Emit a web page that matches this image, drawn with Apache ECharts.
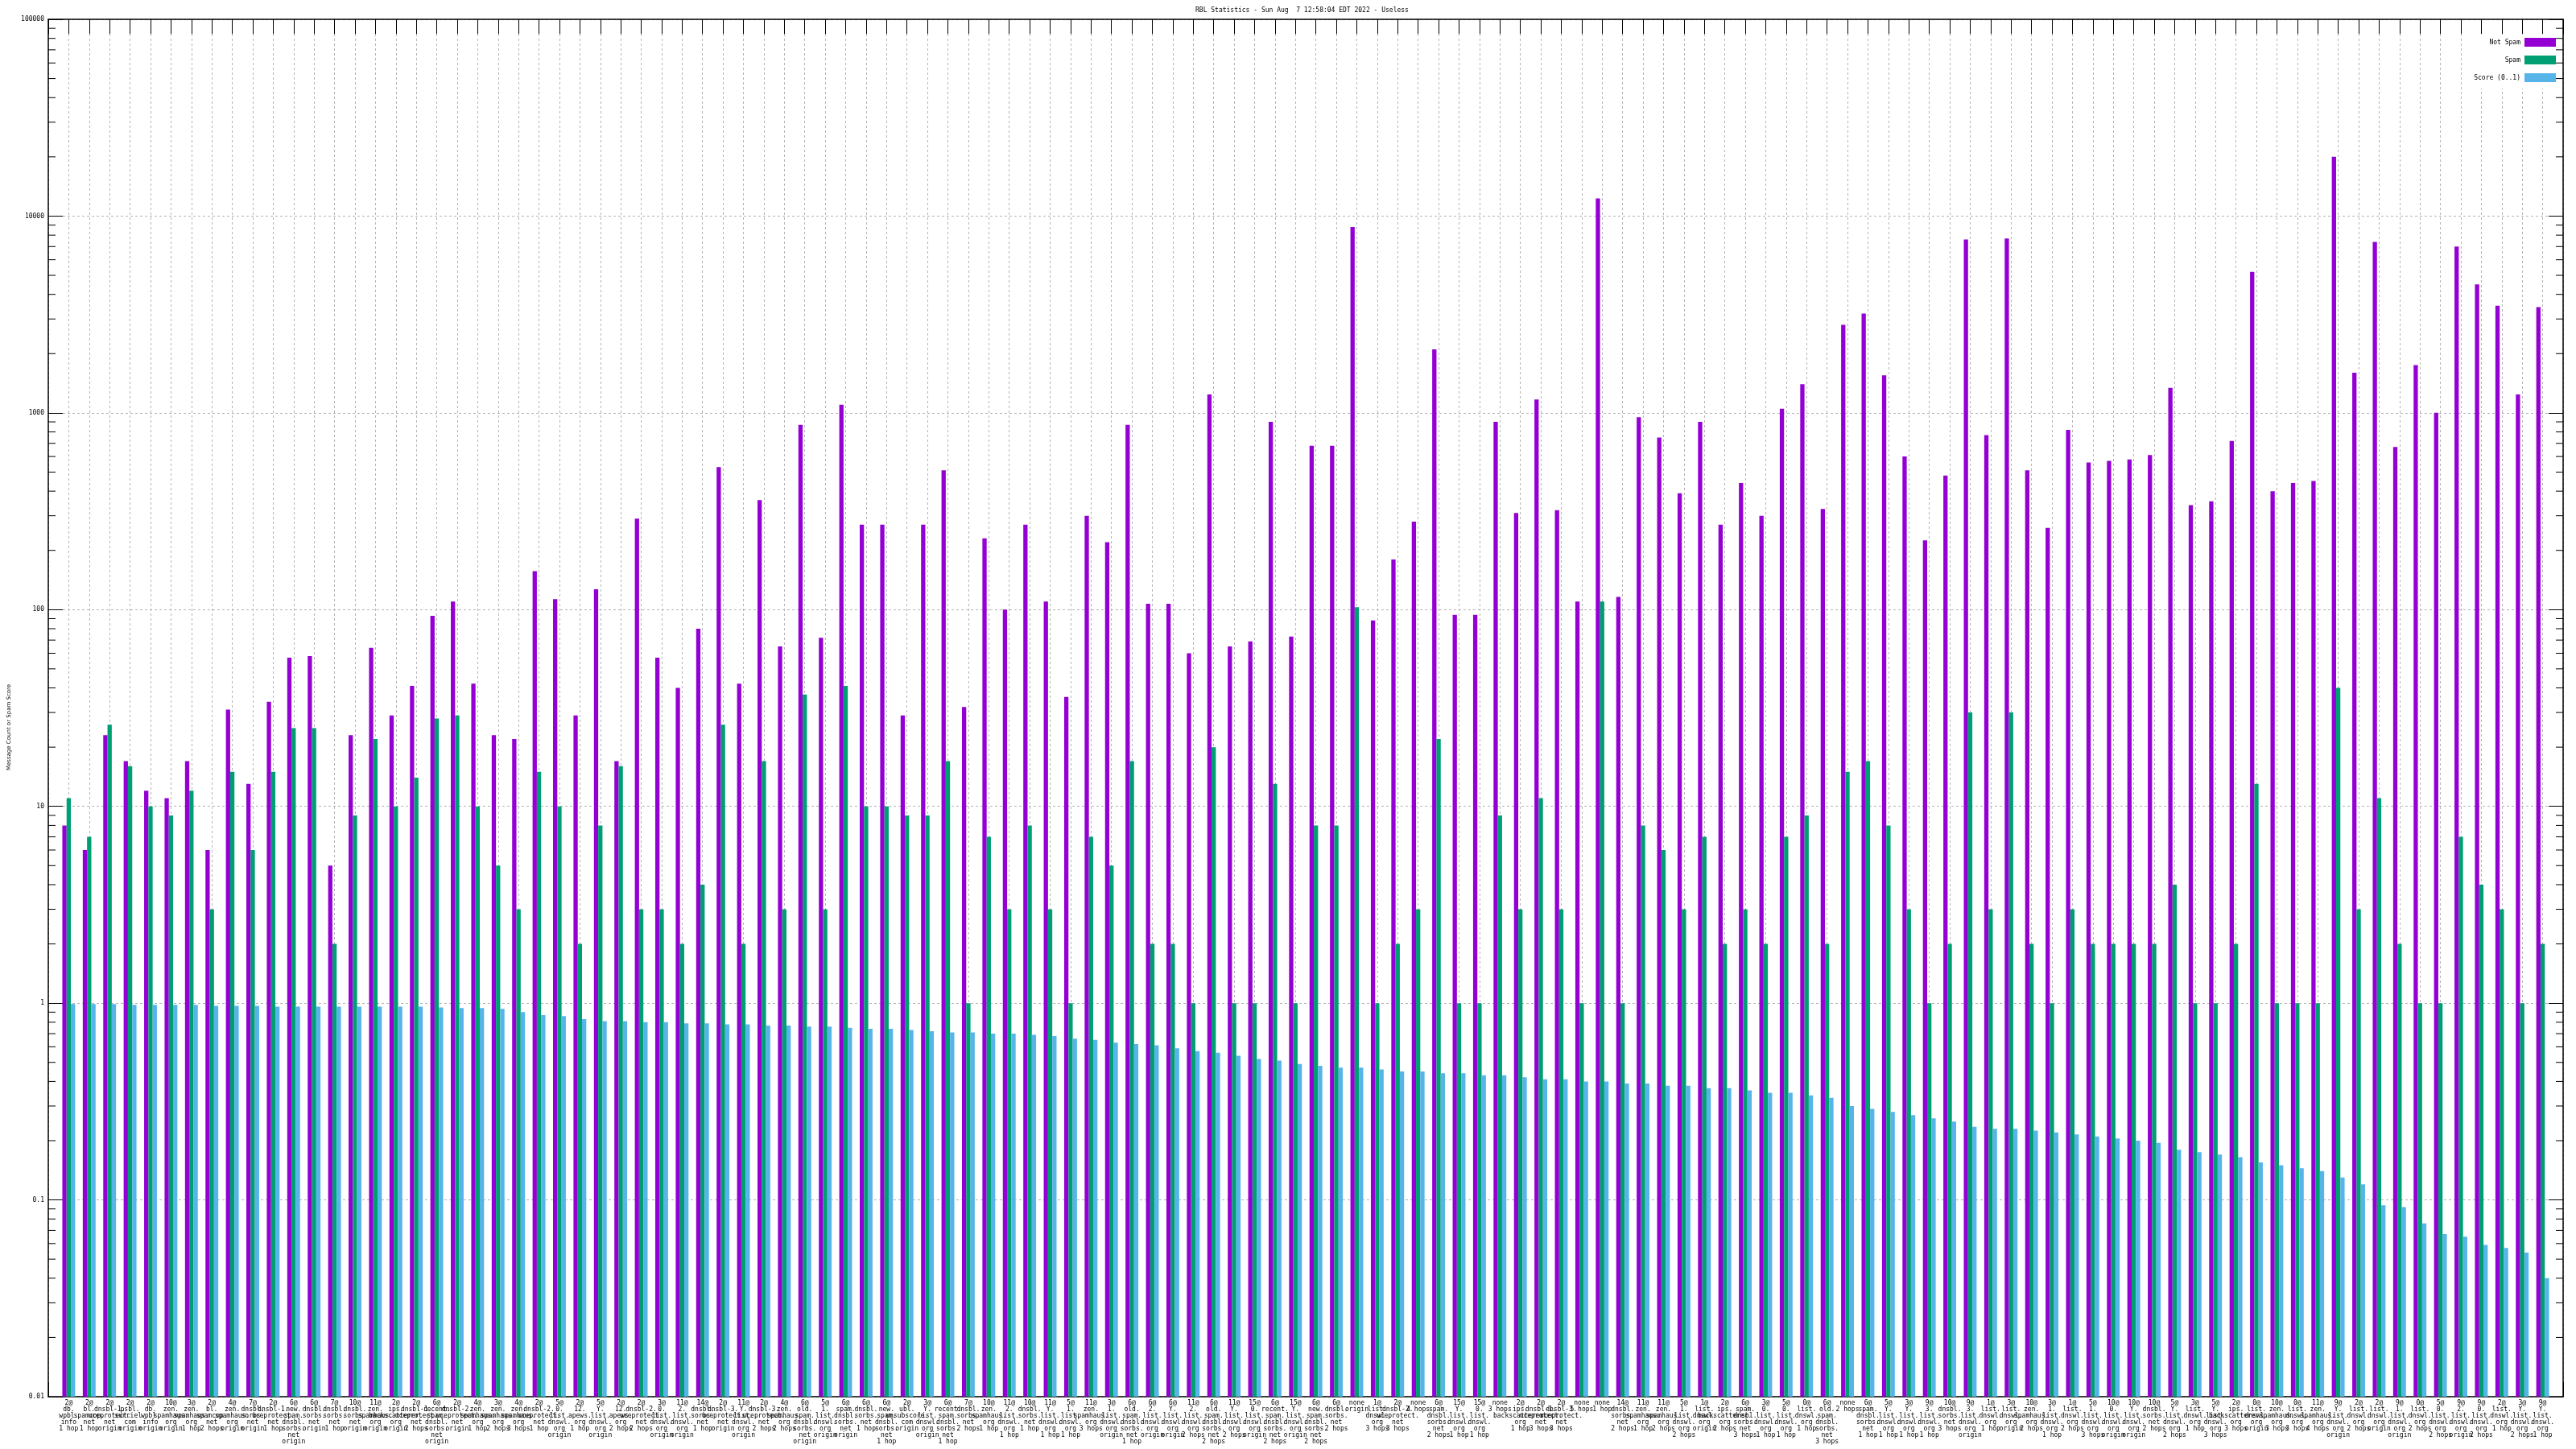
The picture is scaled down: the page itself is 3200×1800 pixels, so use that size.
<!DOCTYPE html>
<html><head><meta charset="utf-8">
<script src="https://cdn.jsdelivr.net/npm/echarts@6/dist/echarts.min.js"></script>
<style>html,body{margin:0;padding:0;background:#fff}#c{width:3200px;height:1800px}</style>
</head><body><div id="c"></div>
<script>
const titleText = 'RBL Statistics - Sun Aug  7 12:58:04 EDT 2022 - Useless';
const seriesNames = ['Not Spam', 'Spam', 'Score (0..1)'];
const seriesColors = ['#9400D3', '#009E73', '#56B4E9'];
const yTickLabels = ['0.01', '0.1', '1', '10', '100', '1000', '10000', '100000'];

const categories = [
'2@\ndb.\nwpbl.\ninfo\n1 hop','2@\nbl.\nspamcop.\nnet\n1 hop','2@\ndnsbl-1.\nuceprotect.\nnet\norigin','2@\npsbl.\nsurriel.\ncom\norigin','2@\ndb.\nwpbl.\ninfo\norigin',
'10@\nzen.\nspamhaus.\norg\norigin','3@\nzen.\nspamhaus.\norg\n1 hop','2@\nbl.\nspamcop.\nnet\n2 hops','4@\nzen.\nspamhaus.\norg\norigin','7@\ndnsbl.\nsorbs.\nnet\norigin',
'2@\ndnsbl-1.\nuceprotect.\nnet\n1 hop','6@\nnew.\nspam.\ndnsbl.\nsorbs.\nnet\norigin','6@\ndnsbl.\nsorbs.\nnet\norigin','7@\ndnsbl.\nsorbs.\nnet\n1 hop','10@\ndnsbl.\nsorbs.\nnet\norigin',
'11@\nzen.\nspamhaus.\norg\norigin','2@\nips.\nbackscatterer.\norg\norigin','2@\ndnsbl-1.\nuceprotect.\nnet\n2 hops','6@\nrecent.\nspam.\ndnsbl.\nsorbs.\nnet\norigin','2@\ndnsbl-2.\nuceprotect.\nnet\norigin',
'4@\nzen.\nspamhaus.\norg\n1 hop','3@\nzen.\nspamhaus.\norg\n2 hops','4@\nzen.\nspamhaus.\norg\n3 hops','2@\ndnsbl-2.\nuceprotect.\nnet\n1 hop','5@\n0.\nlist.\ndnswl.\norg\norigin',
'2@\n12.\napews.\norg\n1 hop','5@\nY.\nlist.\ndnswl.\norg\norigin','2@\n12.\napews.\norg\n2 hops','2@\ndnsbl-2.\nuceprotect.\nnet\n2 hops','3@\n0.\nlist.\ndnswl.\norg\norigin',
'11@\n2.\nlist.\ndnswl.\norg\norigin','14@\ndnsbl.\nsorbs.\nnet\n1 hop','2@\ndnsbl-3.\nuceprotect.\nnet\norigin','11@\nY.\nlist.\ndnswl.\norg\norigin','2@\ndnsbl-3.\nuceprotect.\nnet\n2 hops',
'4@\nzen.\nspamhaus.\norg\n2 hops','6@\nold.\nspam.\ndnsbl.\nsorbs.\nnet\norigin','5@\n1.\nlist.\ndnswl.\norg\norigin','6@\nspam.\ndnsbl.\nsorbs.\nnet\norigin','6@\ndnsbl.\nsorbs.\nnet\n1 hop',
'6@\nnew.\nspam.\ndnsbl.\nsorbs.\nnet\n1 hop','2@\nubl.\nunsubscore.\ncom\norigin','3@\nY.\nlist.\ndnswl.\norg\norigin','6@\nrecent.\nspam.\ndnsbl.\nsorbs.\nnet\n1 hop','7@\ndnsbl.\nsorbs.\nnet\n2 hops',
'10@\nzen.\nspamhaus.\norg\n1 hop','11@\n2.\nlist.\ndnswl.\norg\n1 hop','10@\ndnsbl.\nsorbs.\nnet\n1 hop','11@\nY.\nlist.\ndnswl.\norg\n1 hop','5@\n1.\nlist.\ndnswl.\norg\n1 hop',
'11@\nzen.\nspamhaus.\norg\n3 hops','3@\n1.\nlist.\ndnswl.\norg\norigin','6@\nold.\nspam.\ndnsbl.\nsorbs.\nnet\n1 hop','6@\n2.\nlist.\ndnswl.\norg\norigin','6@\nY.\nlist.\ndnswl.\norg\norigin',
'11@\n2.\nlist.\ndnswl.\norg\n2 hops','6@\nold.\nspam.\ndnsbl.\nsorbs.\nnet\n2 hops','11@\nY.\nlist.\ndnswl.\norg\n2 hops','15@\n0.\nlist.\ndnswl.\norg\norigin','6@\nrecent.\nspam.\ndnsbl.\nsorbs.\nnet\n2 hops',
'15@\nY.\nlist.\ndnswl.\norg\norigin','6@\nnew.\nspam.\ndnsbl.\nsorbs.\nnet\n2 hops','6@\ndnsbl.\nsorbs.\nnet\n2 hops','none\norigin','1@\nlist.\ndnswl.\norg\n3 hops',
'2@\ndnsbl-2.\nuceprotect.\nnet\n3 hops','none\n4 hops','6@\nspam.\ndnsbl.\nsorbs.\nnet\n2 hops','15@\nY.\nlist.\ndnswl.\norg\n1 hop','15@\n0.\nlist.\ndnswl.\norg\n1 hop',
'none\n3 hops','2@\nips.\nbackscatterer.\norg\n1 hop','2@\ndnsbl-1.\nuceprotect.\nnet\n3 hops','2@\ndnsbl-3.\nuceprotect.\nnet\n3 hops','none\n5 hops',
'none\n1 hop','14@\ndnsbl.\nsorbs.\nnet\n2 hops','11@\nzen.\nspamhaus.\norg\n1 hop','11@\nzen.\nspamhaus.\norg\n2 hops','5@\n1.\nlist.\ndnswl.\norg\n2 hops',
'1@\nlist.\ndnswl.\norg\norigin','2@\nips.\nbackscatterer.\norg\n2 hops','6@\nspam.\ndnsbl.\nsorbs.\nnet\n3 hops','3@\n0.\nlist.\ndnswl.\norg\n1 hop','5@\n0.\nlist.\ndnswl.\norg\n1 hop',
'0@\nlist.\ndnswl.\norg\n1 hop','6@\nold.\nspam.\ndnsbl.\nsorbs.\nnet\n3 hops','none\n2 hops','6@\nspam.\ndnsbl.\nsorbs.\nnet\n1 hop','5@\nY.\nlist.\ndnswl.\norg\n1 hop',
'3@\nY.\nlist.\ndnswl.\norg\n1 hop','9@\n3.\nlist.\ndnswl.\norg\n1 hop','10@\ndnsbl.\nsorbs.\nnet\n3 hops','9@\n3.\nlist.\ndnswl.\norg\norigin','1@\nlist.\ndnswl.\norg\n1 hop',
'3@\nlist.\ndnswl.\norg\norigin','10@\nzen.\nspamhaus.\norg\n2 hops','3@\n1.\nlist.\ndnswl.\norg\n1 hop','1@\nlist.\ndnswl.\norg\n2 hops','5@\n1.\nlist.\ndnswl.\norg\n3 hops',
'10@\n0.\nlist.\ndnswl.\norg\norigin','10@\nY.\nlist.\ndnswl.\norg\norigin','10@\ndnsbl.\nsorbs.\nnet\n2 hops','5@\nY.\nlist.\ndnswl.\norg\n2 hops','3@\nlist.\ndnswl.\norg\n1 hop',
'5@\nY.\nlist.\ndnswl.\norg\n3 hops','2@\nips.\nbackscatterer.\norg\n3 hops','0@\nlist.\ndnswl.\norg\norigin','10@\nzen.\nspamhaus.\norg\n3 hops','0@\nlist.\ndnswl.\norg\n3 hops',
'11@\nzen.\nspamhaus.\norg\n4 hops','9@\nY.\nlist.\ndnswl.\norg\norigin','2@\nlist.\ndnswl.\norg\n2 hops','2@\nlist.\ndnswl.\norg\norigin','9@\n1.\nlist.\ndnswl.\norg\norigin',
'0@\nlist.\ndnswl.\norg\n2 hops','5@\n0.\nlist.\ndnswl.\norg\n2 hops','9@\n2.\nlist.\ndnswl.\norg\norigin','9@\n0.\nlist.\ndnswl.\norg\n2 hops','2@\nlist.\ndnswl.\norg\n1 hop',
'3@\nY.\nlist.\ndnswl.\norg\n2 hops','9@\nY.\nlist.\ndnswl.\norg\n1 hop'
];

const notSpam = [
8,6,23,17,12,11,17,6,31,13,
34,57,58,5,23,64,29,41,93,110,
42,23,22,157,113,29,127,17,290,57,
40,80,530,42,360,65,870,72,1100,270,
270,29,270,510,32,230,100,270,110,36,
300,220,870,107,107,60,1240,65,69,900,
73,680,680,8800,88,180,280,2100,94,94,
900,310,1170,320,110,12300,116,950,750,390,
900,270,440,300,1050,1400,325,2800,3200,1550,
600,225,480,7600,770,7700,510,260,820,560,
570,580,610,1340,340,355,720,5200,400,440,
450,20000,1600,7400,670,1750,1000,7000,4500,3500,
1240,3450
];

const spam = [
11,7,26,16,10,9,12,3,15,6,
15,25,25,2,9,22,10,14,28,29,
10,5,3,15,10,2,8,16,3,3,
2,4,26,2,17,3,37,3,41,10,
10,9,9,17,1,7,3,8,3,1,
7,5,17,2,2,1,20,1,1,13,
1,8,8,103,1,2,3,22,1,1,
9,3,11,3,1,110,1,8,6,3,
7,2,3,2,7,9,2,15,17,8,
3,1,2,30,3,30,2,1,3,2,
2,2,2,4,1,1,2,13,1,1,
1,40,3,11,2,1,1,7,4,3,
1,2
];

const score = [
0.99,0.99,0.99,0.98,0.98,0.98,0.98,0.97,0.97,0.97,
0.96,0.96,0.96,0.96,0.96,0.96,0.96,0.96,0.95,0.945,
0.945,0.935,0.90,0.87,0.86,0.83,0.81,0.81,0.80,0.80,
0.79,0.79,0.78,0.78,0.77,0.77,0.76,0.76,0.75,0.74,
0.74,0.73,0.72,0.71,0.71,0.70,0.70,0.69,0.68,0.66,
0.65,0.63,0.62,0.61,0.59,0.57,0.56,0.54,0.52,0.51,
0.49,0.48,0.47,0.47,0.46,0.45,0.45,0.44,0.44,0.43,
0.43,0.42,0.41,0.41,0.40,0.40,0.39,0.39,0.38,0.38,
0.37,0.37,0.36,0.35,0.35,0.34,0.33,0.30,0.29,0.28,
0.27,0.26,0.25,0.235,0.23,0.23,0.225,0.22,0.215,0.21,
0.205,0.20,0.195,0.18,0.175,0.17,0.165,0.155,0.15,0.145,
0.14,0.13,0.12,0.094,0.092,0.076,0.067,0.065,0.059,0.057,
0.054,0.040
];

const Y_MIN = 0.01, Y_MAX = 100000;
const BAR_W = 5.3;
const MONO = 'DejaVu Sans Mono';

// minor (log) tick positions on the y axis: 2..9 within each decade
const minorTicks = [];
for (let d = 0; d < yTickLabels.length - 1; d++) {
  const base = Number(yTickLabels[d]);
  for (let m = 2; m <= 9; m++) minorTicks.push([ -1, +(base * m).toPrecision(3) ]);
}

const chart = echarts.init(document.getElementById('c'), null, {renderer: 'canvas', devicePixelRatio: 1});

function barSeries(k, values) {
  return {
    type: 'custom', name: seriesNames[k], coordinateSystem: 'cartesian2d',
    xAxisIndex: 0, yAxisIndex: 0, z: 2, silent: true,
    itemStyle: {color: seriesColors[k]},
    encode: {x: 0, y: 1},
    data: values.map((v, i) => [i, v]),
    renderItem(params, api) {
      const x = api.value(0), v = api.value(1);
      const top = api.coord([x, v]);
      const bot = api.coord([x, Y_MIN]);
      const cx = top[0] + (k - 1) * BAR_W;
      return {type: 'rect', shape: {x: cx - BAR_W / 2, y: top[1], width: BAR_W, height: bot[1] - top[1]},
              style: {fill: seriesColors[k]}};
    }
  };
}

const axisLine = {show: true, onZero: false, lineStyle: {color: '#000', width: 1.5}};
const gridDash = {show: true, lineStyle: {color: '#b4b4b4', type: [3, 3], width: 1}};

const xCommon = {type: 'value', min: -1, max: categories.length, interval: 1};
const yCommon = {type: 'log', logBase: 10, min: Y_MIN, max: Y_MAX, splitNumber: 7};

chart.setOption({
  animation: false,
  backgroundColor: '#fff',
  title: {text: titleText, left: 1485, top: 9, padding: 0,
          textStyle: {fontFamily: MONO, fontSize: 8, fontWeight: 'normal', color: '#000'}},
  legend: {
    data: seriesNames, orient: 'vertical', align: 'right', right: 25, top: 43,
    padding: [4, 0, 8, 8], itemWidth: 39, itemHeight: 11, itemGap: 11,
    backgroundColor: '#fff', icon: 'rect', selectedMode: false,
    textStyle: {fontFamily: MONO, fontSize: 8, color: '#000'}
  },
  grid: {left: 55, right: 16, top: 24, bottom: 65, containLabel: false},
  xAxis: [
    Object.assign({}, xCommon, {
      position: 'bottom', axisLine,
      axisTick: {show: true, inside: true, length: 18, lineStyle: {color: '#000', width: 1}},
      splitLine: gridDash,
      axisLabel: {show: true, margin: 4, interval: 0, hideOverlap: false, showMinLabel: true, showMaxLabel: true,
        fontFamily: MONO, fontSize: 8, lineHeight: 8, color: '#000', align: 'center',
        formatter: v => (Number.isInteger(v) && v >= 0 && v < categories.length) ? categories[v] : ''}
    }),
    Object.assign({}, xCommon, {
      position: 'top', axisLine,
      axisTick: {show: true, inside: true, length: 18, lineStyle: {color: '#000', width: 1}},
      splitLine: {show: false}, axisLabel: {show: false}
    })
  ],
  yAxis: [
    Object.assign({}, yCommon, {
      position: 'left', axisLine,
      axisTick: {show: true, inside: true, length: 18, lineStyle: {color: '#000', width: 1}},
      splitLine: gridDash,
      axisLabel: {show: true, margin: 5, fontFamily: MONO, fontSize: 8, color: '#000',
        formatter: v => yTickLabels[Math.round(Math.log10(v)) + 2]},
      name: 'Message Count or Spam Score', nameLocation: 'middle', nameGap: 45, nameRotate: 90,
      nameTextStyle: {fontFamily: 'DejaVu Sans', fontSize: 7, color: '#000', padding: [0, 48, 0, 0]}
    }),
    Object.assign({}, yCommon, {
      position: 'right', axisLine,
      axisTick: {show: true, inside: true, length: 18, lineStyle: {color: '#000', width: 1}},
      splitLine: {show: false}, axisLabel: {show: false}
    })
  ],
  series: [
    barSeries(0, notSpam),
    barSeries(1, spam),
    barSeries(2, score),
    {
      type: 'custom', name: 'minorTicks', coordinateSystem: 'cartesian2d', xAxisIndex: 0, yAxisIndex: 0,
      z: 5, silent: true, encode: {x: 0, y: 1}, data: minorTicks,
      renderItem(params, api) {
        const cs = params.coordSys;
        const y = api.coord([api.value(0), api.value(1)])[1];
        return {type: 'group', children: [
          {type: 'line', shape: {x1: cs.x, y1: y, x2: cs.x + 9, y2: y}, style: {stroke: '#000', lineWidth: 1}},
          {type: 'line', shape: {x1: cs.x + cs.width - 9, y1: y, x2: cs.x + cs.width, y2: y}, style: {stroke: '#000', lineWidth: 1}}
        ]};
      }
    }
  ]
});
</script>
</body></html>
